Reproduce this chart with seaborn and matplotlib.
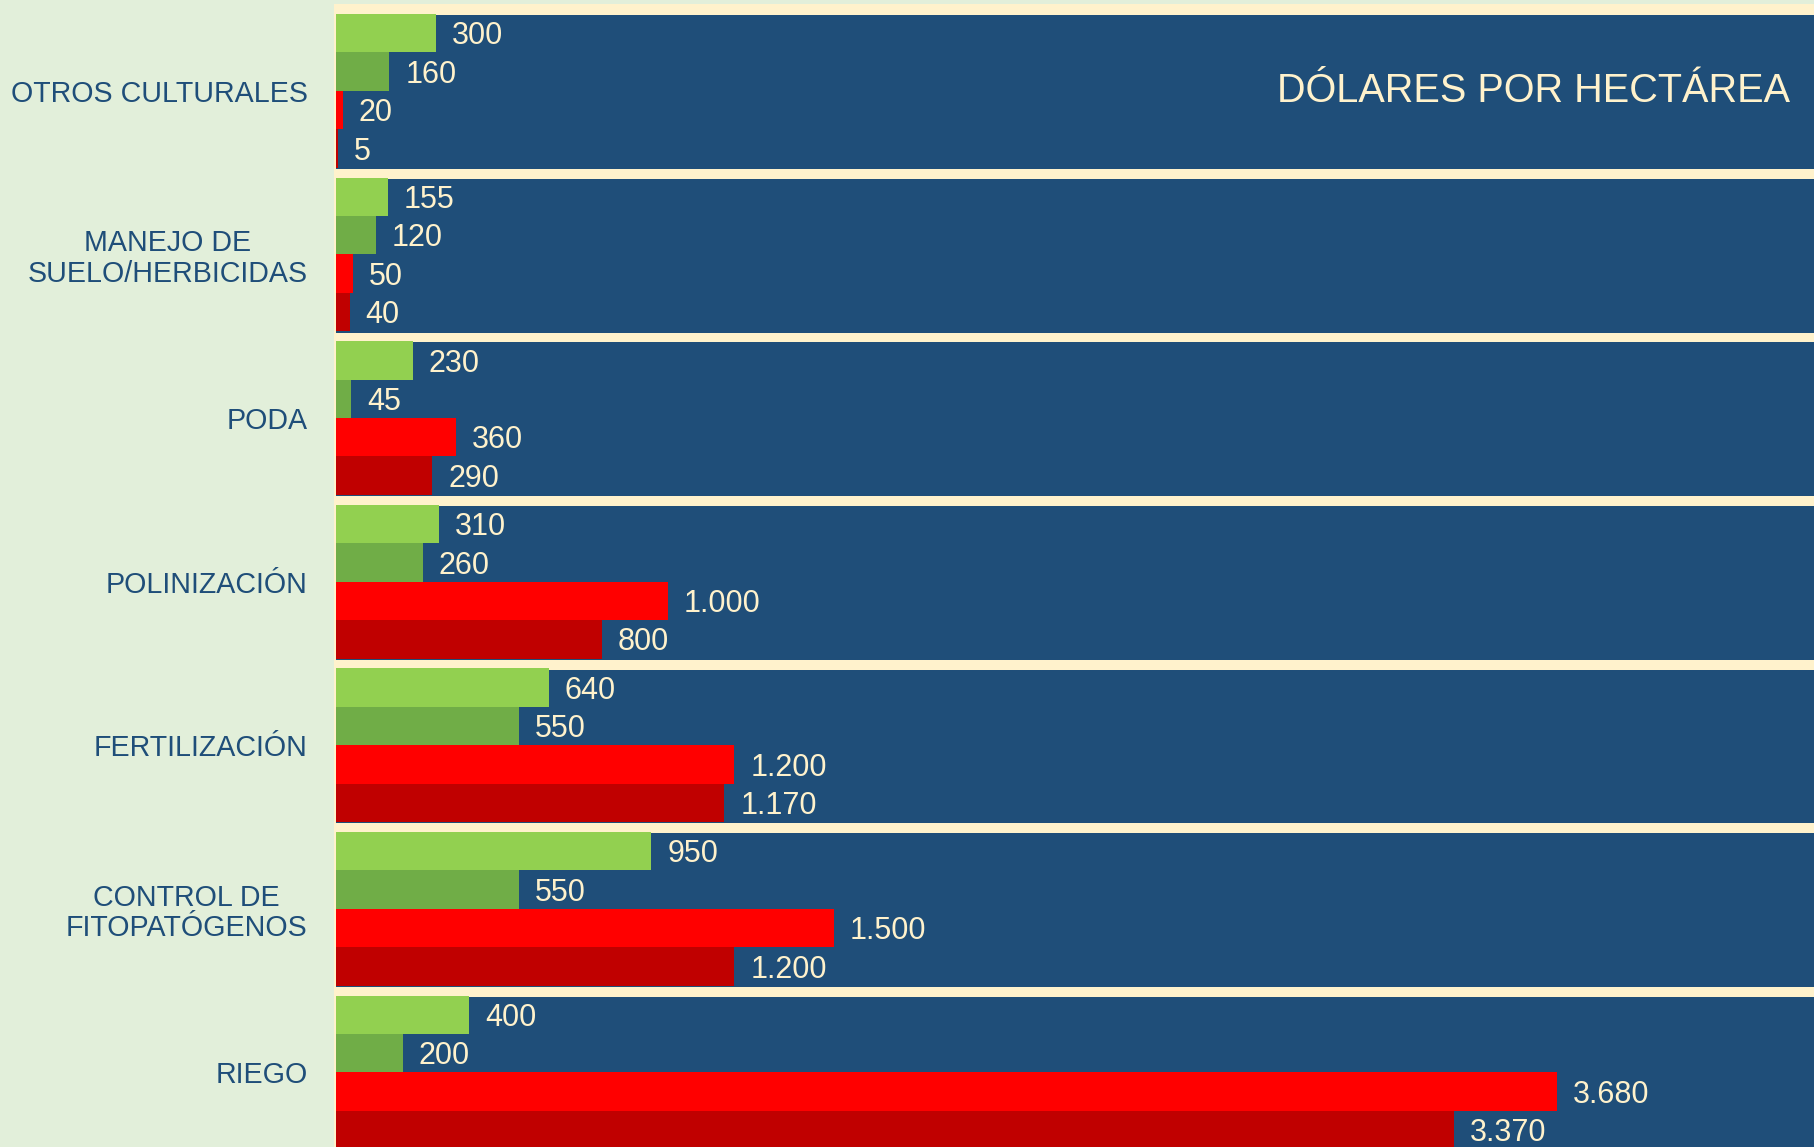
"""
Costos por labor - dólares por hectárea
"""

import matplotlib
matplotlib.use("Agg")
import matplotlib.pyplot as plt
import matplotlib.transforms as mtransforms
import seaborn as sns
import pandas as pd
import numpy as np

# datos
categorias = ['OTROS CULTURALES', 'MANEJO DE\nSUELO/HERBICIDAS', 'PODA', 'POLINIZACIÓN',
              'FERTILIZACIÓN', 'CONTROL DE\nFITOPATÓGENOS', 'RIEGO']
series = ['Serie 1', 'Serie 2', 'Serie 3', 'Serie 4']
serie_1 = [300, 155, 230, 310, 640, 950, 400]
serie_2 = [160, 120, 45, 260, 550, 550, 200]
serie_3 = [20, 50, 360, 1000, 1200, 1500, 3680]
serie_4 = [5, 40, 290, 800, 1170, 1200, 3370]

colores = ['#92D050', '#70AD47', '#FF0000', '#C00000']
azul = '#1F4E79'
crema = '#FFF2CC'
fondo = '#E2EFDA'

x_max = 4459
x_min = -7

df = pd.DataFrame({
    'categoria': np.repeat(categorias, 4),
    'serie': series * len(categorias),
    'valor': np.column_stack([serie_1, serie_2, serie_3, serie_4]).ravel(),
})

sns.set_theme(style='white')
plt.rcParams['font.family'] = ['Liberation Sans', 'DejaVu Sans']

fig = plt.figure(figsize=(18.15, 11.47), dpi=100, facecolor=fondo)
ax = fig.add_axes([334 / 1815, 0, 1 - 334 / 1815, 1 - 4 / 1147])
ax.set_facecolor(crema)

# bandas de fondo por categoria
ax.barh(np.arange(len(categorias)) + 0.008, x_max, left=0, height=0.94,
        color=azul, zorder=0.5, linewidth=0)

sns.barplot(data=df, y='categoria', x='valor', hue='serie', order=categorias,
            hue_order=series, orient='h', width=0.94, gap=0, dodge=True,
            palette=colores, saturation=1, legend=False, errorbar=None,
            linewidth=0, ax=ax)

# etiquetas de valor (los 4 ultimos contenedores son las series)
valores = [serie_1, serie_2, serie_3, serie_4]
for cont, vals in zip(ax.containers[-4:], valores):
    for bar, v in zip(cont, vals):
        y = bar.get_y() + bar.get_height() / 2
        ax.annotate(f'{v:,}'.replace(',', '.'), xy=(v, y), xytext=(11.5, -2.3),
                    textcoords='offset points', ha='left', va='center',
                    fontsize=22, color=crema, zorder=5)

ax.set_xlim(x_min, x_max)
ax.set_ylim(6.456, -0.531)
ax.set_xlabel('')
ax.set_ylabel('')
ax.set_xticks([])
for s in ax.spines.values():
    s.set_visible(False)

ax.tick_params(axis='y', length=0, pad=19)
for lbl in ax.get_yticklabels():
    lbl.set_fontsize(20.6)
    lbl.set_color(azul)
    lbl.set_multialignment('center')
    lbl.set_linespacing(1.1)

trans = mtransforms.blended_transform_factory(ax.transAxes, ax.transData)
ax.text(0.983, 0, 'DÓLARES POR HECTÁREA', transform=trans, ha='right',
        va='center', fontsize=28.5, color=crema, zorder=5)

fig.savefig('out.png', dpi=100, facecolor=fondo)
